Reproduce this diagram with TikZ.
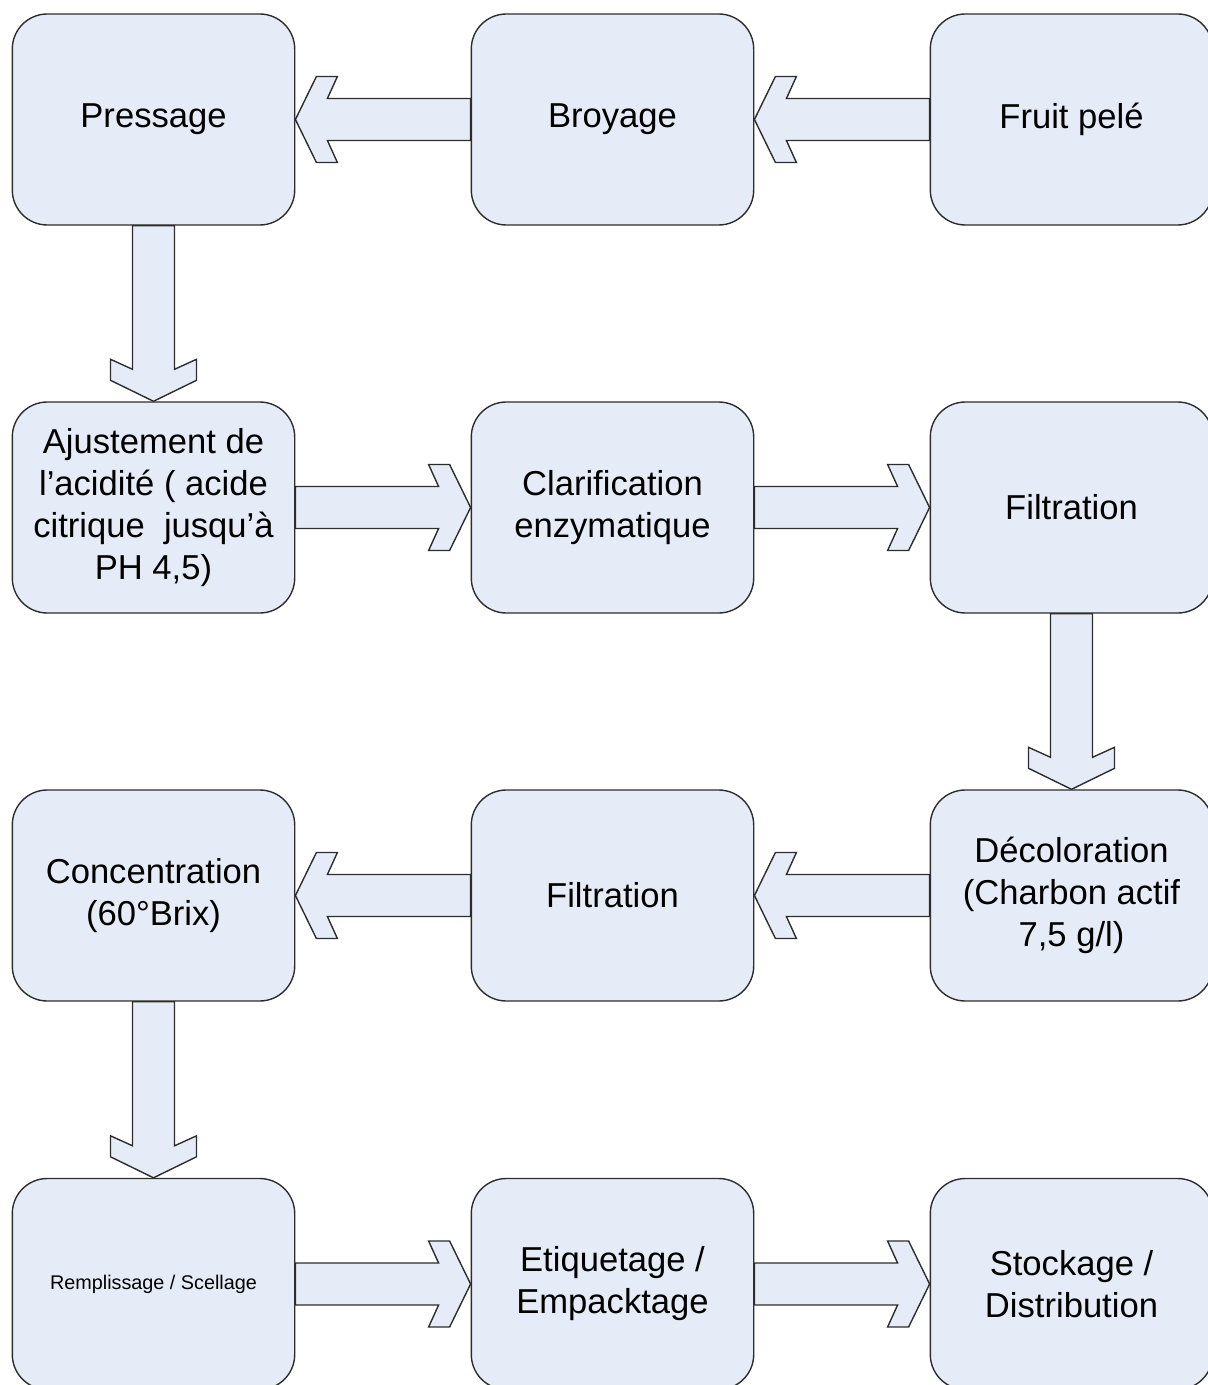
\documentclass[tikz,border=0pt]{standalone}
\usepackage{fontspec}
\setmainfont{Liberation Sans}
\usetikzlibrary{calc}
\definecolor{boxfill}{RGB}{230,236,247}
\definecolor{edgecol}{RGB}{45,45,45}
\tikzset{
  stepbox/.style={draw=edgecol, fill=boxfill, line width=0.7pt, rounded corners=17.5pt,
    minimum width=141.2pt, minimum height=105.5pt, align=center, inner sep=0pt,
    font=\fontsize{17.3}{21}\selectfont},
  smalltext/.style={font=\fontsize{9.9}{12}\selectfont},
  blockarrow/.style={draw=edgecol, fill=boxfill, line width=0.7pt, line join=miter},
}
% #1 = start anchor, #2 = tip anchor
\newcommand\barrow[2]{%
  \path[blockarrow] (#2)
    -- ($($(#2)!10.5pt!(#1)$)!21.5pt!90:(#1)$)
    -- ($($(#2)!21pt!(#1)$)!21.5pt!90:(#1)$)
    -- ($($(#2)!16pt!(#1)$)!10.5pt!90:(#1)$)
    -- ($(#1)!10.5pt!-90:(#2)$)
    -- ($(#1)!10.5pt!90:(#2)$)
    -- ($($(#2)!16pt!(#1)$)!10.5pt!-90:(#1)$)
    -- ($($(#2)!21pt!(#1)$)!21.5pt!-90:(#1)$)
    -- ($($(#2)!10.5pt!(#1)$)!21.5pt!-90:(#1)$)
    -- cycle;}
\begin{document}
\begin{tikzpicture}[x=0.5pt,y=-0.5pt]
\useasboundingbox (0,0) rectangle (1208,1385);
\clip (0,0) rectangle (1208,1385);
% row 1
\node[stepbox] (press) at (153.5,119.5) {Pressage};
\node[stepbox] (broy)  at (612.5,119.5) {Broyage};
\node[stepbox] (fruit) at (1071.5,119.5) {Fruit pelé};
% row 2
\node[stepbox] (ajust) at (153.5,507.5) {Ajustement de\\l’acidité ( acide\\citrique \ jusqu’à\\PH 4,5)};
\node[stepbox] (clar)  at (612.5,507.5) {Clarification\\enzymatique};
\node[stepbox] (filta) at (1071.5,507.5) {Filtration};
% row 3
\node[stepbox] (conc)  at (153.5,895.5) {Concentration\\(60°Brix)};
\node[stepbox] (filtb) at (612.5,895.5) {Filtration};
\node[stepbox] (decol) at (1071.5,895.5) {Décoloration\\(Charbon actif\\7,5 g/l)};
% row 4
\node[stepbox, smalltext] (rempl) at (153.5,1284) {Remplissage / Scellage};
\node[stepbox] (etiq)  at (612.5,1284) {Etiquetage /\\Empacktage};
\node[stepbox] (stock) at (1071.5,1284) {Stockage /\\Distribution};
% arrows
\barrow{fruit.west}{broy.east}
\barrow{broy.west}{press.east}
\barrow{press.south}{ajust.north}
\barrow{ajust.east}{clar.west}
\barrow{clar.east}{filta.west}
\barrow{filta.south}{decol.north}
\barrow{decol.west}{filtb.east}
\barrow{filtb.west}{conc.east}
\barrow{conc.south}{rempl.north}
\barrow{rempl.east}{etiq.west}
\barrow{etiq.east}{stock.west}
\end{tikzpicture}
\end{document}
